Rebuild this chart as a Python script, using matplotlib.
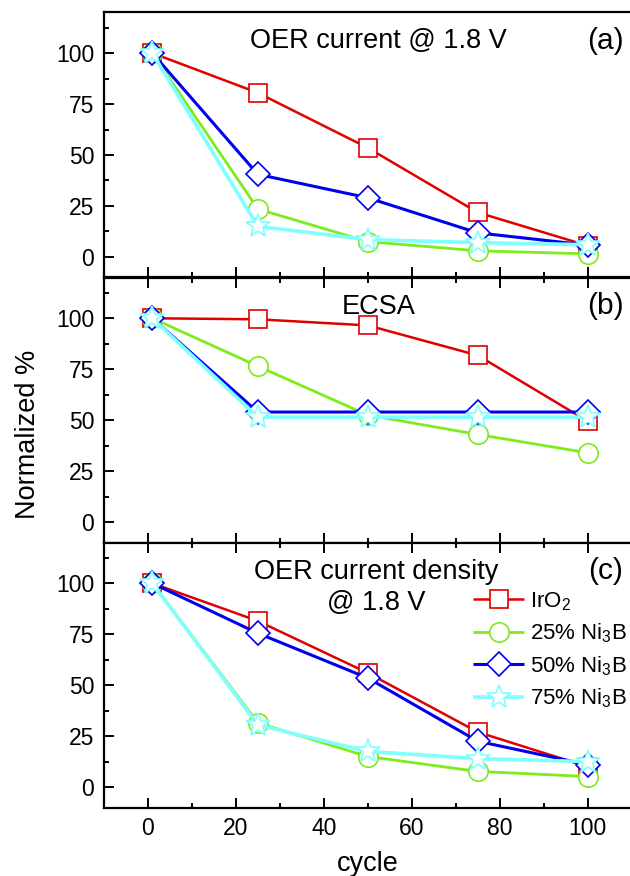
import matplotlib
matplotlib.use("Agg")
import matplotlib.pyplot as plt
from matplotlib.ticker import MultipleLocator

plt.rcParams['font.family'] = ['Liberation Sans', 'DejaVu Sans']
plt.rcParams['mathtext.fontset'] = 'custom'
plt.rcParams['mathtext.rm'] = 'Liberation Sans'
plt.rcParams['mathtext.it'] = 'Liberation Sans:italic'
plt.rcParams['mathtext.bf'] = 'Liberation Sans:bold'

# ---------------- data ----------------
cycles = [1, 25, 50, 75, 100]
series_labels = [r'IrO$_2$', r'25% Ni$_3$B', r'50% Ni$_3$B', r'75% Ni$_3$B']

# (a) OER current @ 1.8 V
a_iro2 = [100, 80.5, 53.5, 21.8, 5.5]
a_ni25 = [100, 23.5, 7.5, 3.0, 1.5]
a_ni50 = [100, 40.5, 29.0, 11.8, 5.8]
a_ni75 = [100, 15.0, 8.5, 7.0, 6.0]

# (b) ECSA
b_iro2 = [100, 99.5, 96.5, 81.8, 49.5]
b_ni25 = [100, 76.5, 52.5, 43.0, 34.0]
b_ni50 = [100, 54.0, 54.0, 54.0, 54.0]
b_ni75 = [100, 51.5, 51.5, 51.5, 51.5]

# (c) OER current density @ 1.8 V
c_iro2 = [100, 81.5, 56.0, 27.0, 10.0]
c_ni25 = [100, 31.5, 15.0, 7.7, 5.2]
c_ni50 = [100, 75.5, 53.5, 22.5, 11.0]
c_ni75 = [100, 30.5, 17.5, 14.0, 12.5]

panel_titles = ['OER current @ 1.8 V', 'ECSA', 'OER current density\n@ 1.8 V']
panel_tags = ['(a)', '(b)', '(c)']
y_ticks = [0, 25, 50, 75, 100]
x_ticks = [0, 20, 40, 60, 80, 100]

# ---------------- style ----------------
colors = ['#E00000', '#7FEA1E', '#0000F0', '#7FFFFF']
markers = ['s', 'o', 'D', '*']
msizes = [12.5, 14, 12.5, 18]
lws = [1.8, 2.0, 2.2, 2.6]

W, H = 630, 876
fig = plt.figure(figsize=(W / 100, H / 100), dpi=100)

left_px, right_px = 103.9, 631.7
tops_px = [12.3, 277.5, 542.5]
ph = 265.0

data = [
    [a_iro2, a_ni25, a_ni50, a_ni75],
    [b_iro2, b_ni25, b_ni50, b_ni75],
    [c_iro2, c_ni25, c_ni50, c_ni75],
]

axes = []
for i in range(3):
    ax = fig.add_axes([left_px / W, 1 - (tops_px[i] + ph) / H,
                       (right_px - left_px) / W, ph / H])
    axes.append(ax)
    for s in range(4):
        ax.plot(cycles, data[i][s], color=colors[s], lw=lws[s],
                marker=markers[s], ms=msizes[s], mfc='white',
                mec=colors[s], mew=1.2, label=series_labels[s],
                solid_capstyle='butt')
    ax.set_xlim(-10, 110)
    ax.set_ylim(-10, 120)
    ax.set_yticks(y_ticks)
    ax.set_xticks(x_ticks)
    ax.xaxis.set_minor_locator(MultipleLocator(10))
    ax.yaxis.set_minor_locator(MultipleLocator(12.5))
    ax.tick_params(which='both', direction='in', width=1.4, color='black',
                   top=(i > 0), right=False, labelsize=16.5)
    ax.tick_params(which='major', length=7.2, pad=7)
    ax.tick_params(which='minor', length=3.6)
    for sp in ax.spines.values():
        sp.set_linewidth(1.6)
        sp.set_color('black')
    ax.spines['right'].set_visible(False)
    if i < 2:
        ax.tick_params(labelbottom=False)
    ax.text(104, 106, panel_tags[i], fontsize=21.5, ha='center', va='center')

axes[0].text(52.5, 106, panel_titles[0], fontsize=19.5, ha='center', va='center')
axes[1].text(52.5, 105.7, panel_titles[1], fontsize=19.5, ha='center', va='center')
axes[2].text(52, 98, panel_titles[2], fontsize=19.5, ha='center', va='center',
             linespacing=1.25)

axes[2].set_xlabel('cycle', fontsize=19.5, labelpad=8)
fig.text(0.045, 1 - 434 / H, 'Normalized %', fontsize=19.5, rotation=90,
         ha='center', va='center')

leg = axes[2].legend(loc='upper left', bbox_to_anchor=(0.70, 0.82),
                     frameon=False, fontsize=16, handlelength=2.3,
                     handletextpad=0.25, labelspacing=0.4, borderpad=0,
                     borderaxespad=0)

fig.savefig('out.png', dpi=100)
